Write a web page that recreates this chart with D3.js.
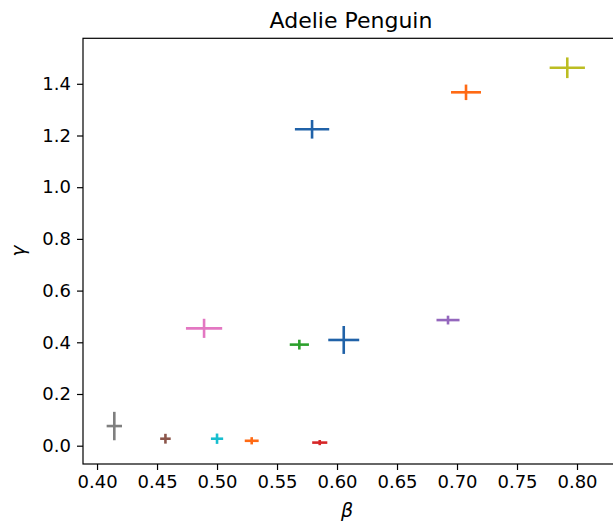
<!DOCTYPE html>
<html>
<head>
<meta charset="utf-8">
<script src="https://cdn.jsdelivr.net/npm/d3@7"></script>
<style>
  html, body { margin: 0; padding: 0; background: #fff; }
  svg { display: block; overflow: hidden; }
  text { font-family: "DejaVu Sans", sans-serif; fill: #000; }
</style>
</head>
<body>
<svg id="chart" width="613" height="524"></svg>
<script>
// Estimated (beta, gamma) pairs with their uncertainties
const beta      = [0.4144, 0.4570, 0.5000, 0.5289, 0.5856, 0.4892, 0.5686, 0.6056, 0.6925, 0.5792, 0.7075, 0.7919];
const gamma     = [0.076,  0.027,  0.027,  0.019,  0.012,  0.454,  0.391,  0.409,  0.486,  1.224,  1.367,  1.462];
const betaErr   = [0.0064, 0.0044, 0.0051, 0.0058, 0.0063, 0.0151, 0.0080, 0.0129, 0.0096, 0.0143, 0.0125, 0.0147];
const gammaErr  = [0.055,  0.019,  0.020,  0.014,  0.010,  0.037,  0.019,  0.054,  0.017,  0.036,  0.030,  0.040];
const colors    = ["#7f7f7f", "#8c564b", "#17becf", "#ff6a14", "#d62728", "#e377c2", "#2ca02c", "#2062a8", "#9467bd", "#2062a8", "#ff6a14", "#bcbd22"];
const xTicks    = [0.40, 0.45, 0.50, 0.55, 0.60, 0.65, 0.70, 0.75, 0.80];
const yTicks    = [0.0, 0.2, 0.4, 0.6, 0.8, 1.0, 1.2, 1.4];

const plotLeft = 83, plotRight = 619, plotTop = 38.3, plotBottom = 464;

const svg = d3.select("#chart");
const x = d3.scaleLinear().domain([0.3883, 0.835]).range([plotLeft, plotRight]);
const y = d3.scaleLinear().domain([-0.0708, 1.576]).range([plotBottom, plotTop]);

const points = beta.map((b, i) => ({ b, g: gamma[i], eb: betaErr[i], eg: gammaErr[i], c: colors[i] }));

// error-bar crosses
const marks = svg.append("g");
points.forEach(p => {
  marks.append("line")
    .attr("x1", x(p.b - p.eb)).attr("x2", x(p.b + p.eb))
    .attr("y1", y(p.g)).attr("y2", y(p.g))
    .attr("stroke", p.c).attr("stroke-width", 2.6);
  marks.append("line")
    .attr("x1", x(p.b)).attr("x2", x(p.b))
    .attr("y1", y(p.g - p.eg)).attr("y2", y(p.g + p.eg))
    .attr("stroke", p.c).attr("stroke-width", 2.6);
});

// axes
const xAxis = d3.axisBottom(x).tickValues(xTicks).tickFormat(d3.format(".2f")).tickSize(6).tickPadding(5);
const yAxis = d3.axisLeft(y).tickValues(yTicks).tickFormat(d3.format(".1f")).tickSize(6).tickPadding(6);

const gx = svg.append("g").attr("transform", `translate(0,${plotBottom})`).call(xAxis);
const gy = svg.append("g").attr("transform", `translate(${plotLeft},0)`).call(yAxis);
[gx, gy].forEach(g => {
  g.select(".domain").remove();
  g.selectAll(".tick line").attr("stroke", "#000").attr("stroke-width", 1.2);
  g.selectAll(".tick text").attr("font-size", 18).attr("font-family", "DejaVu Sans").attr("fill", "#000");
});

// frame
svg.append("rect")
  .attr("x", plotLeft).attr("y", plotTop)
  .attr("width", plotRight - plotLeft).attr("height", plotBottom - plotTop)
  .attr("fill", "none").attr("stroke", "#000").attr("stroke-width", 1.2);

// title and axis labels
svg.append("text").attr("x", (plotLeft + plotRight) / 2).attr("y", 28)
  .attr("text-anchor", "middle").attr("font-size", 22).text("Adelie Penguin");
svg.append("text").attr("x", (plotLeft + plotRight) / 2 - 4).attr("y", 517)
  .attr("text-anchor", "middle").attr("font-size", 19).attr("font-style", "italic").text("β");
svg.append("text").attr("transform", `translate(25,${(plotTop + plotBottom) / 2}) rotate(-90)`)
  .attr("text-anchor", "middle").attr("font-size", 19).attr("font-style", "italic").text("γ");
</script>
</body>
</html>
